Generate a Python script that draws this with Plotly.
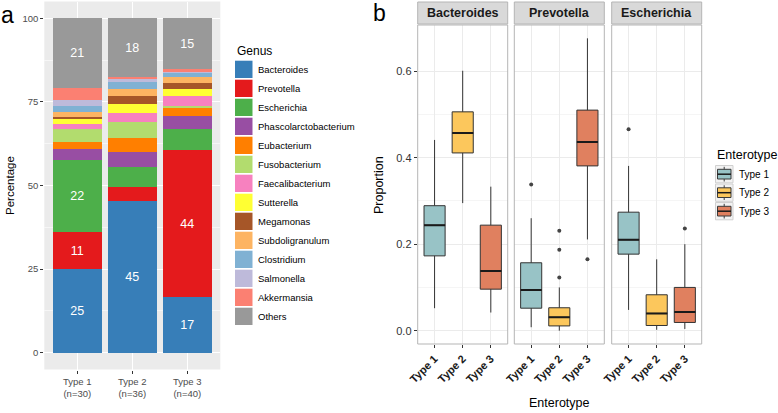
import plotly.graph_objects as go

W, H = 778, 413
def fx(x): return x / W
def fy(y): return 1 - y / H

FONT = "Liberation Sans, Arial, sans-serif"

# ---------------- Panel a data ----------------
types_a = ["Type 1<br>(n=30)", "Type 2<br>(n=36)", "Type 3<br>(n=40)"]
genera = ["Bacteroides", "Prevotella", "Escherichia", "Phascolarctobacterium",
          "Eubacterium", "Fusobacterium", "Faecalibacterium", "Sutterella",
          "Megamonas", "Subdoligranulum", "Clostridium", "Salmonella",
          "Akkermansia", "Others"]
genus_colors = ["#377EB8", "#E41A1C", "#4DAF4A", "#984EA3", "#FF7F00", "#B2DC6E",
                "#F781BF", "#FFFF33", "#A65628", "#FDB462", "#80B1D3", "#BEBADA",
                "#FB8072", "#999999"]
pct_type1 = [25.0, 11.0, 21.6, 3.2, 2.3, 3.8, 1.5, 1.7, 0.5, 1.4, 1.7, 2.0, 3.3, 21.0]
pct_type2 = [45.4, 4.3, 5.8, 4.5, 4.2, 4.7, 2.8, 2.8, 2.4, 2.0, 2.0, 1.1, 0.3, 17.7]
pct_type3 = [16.6, 43.9, 6.4, 3.8, 2.7, 0.5, 2.8, 2.0, 2.0, 1.6, 1.6, 0.4, 0.4, 15.3]

# ---------------- Panel b data ----------------
enterotypes = ["Type 1", "Type 2", "Type 3"]
type_colors = ["#98C3C6", "#FCC75C", "#E0805F"]
facet_genera = ["Bacteroides", "Prevotella", "Escherichia"]
# [genus][enterotype]
box_lower = [[0.052, 0.295, 0.042], [0.008, 0.000, 0.211], [0.048, 0.002, 0.004]]
box_q1 = [[0.173, 0.411, 0.096], [0.052, 0.011, 0.381], [0.177, 0.012, 0.019]]
box_median = [[0.244, 0.457, 0.138], [0.094, 0.031, 0.436], [0.210, 0.040, 0.043]]
box_q3 = [[0.289, 0.506, 0.244], [0.157, 0.053, 0.510], [0.274, 0.083, 0.100]]
box_upper = [[0.441, 0.601, 0.333], [0.260, 0.100, 0.676], [0.381, 0.165, 0.200]]
outlier_genus = [1, 1, 1, 1, 1, 2, 2]
outlier_type = [0, 1, 1, 1, 2, 0, 2]
outlier_value = [0.338, 0.123, 0.187, 0.231, 0.165, 0.466, 0.236]

fig = go.Figure()

# stacked bars
for i, g in enumerate(genera):
    vals = [pct_type1[i], pct_type2[i], pct_type3[i]]
    txt = [str(int(round(v))) if v >= 10 else "" for v in vals]
    fig.add_trace(go.Bar(
        x=types_a, y=vals, name=g, width=0.9,
        marker=dict(color=genus_colors[i], line=dict(width=0)),
        text=txt, textposition="inside", insidetextanchor="middle",
        textangle=0, constraintext="none",
        textfont=dict(color="white", size=12.5, family=FONT),
        xaxis="x", yaxis="y", showlegend=False))

# box plots
BW = 0.75
for k in range(3):
    xa = "x%d" % (k + 2)
    for j in range(3):
        fig.add_trace(go.Box(
            x=[j + 1], q1=[box_q1[k][j]], median=[box_median[k][j]], q3=[box_q3[k][j]],
            lowerfence=[box_lower[k][j]], upperfence=[box_upper[k][j]],
            width=BW, whiskerwidth=0, boxpoints=False,
            fillcolor=type_colors[j], line=dict(color="#333333", width=1),
            xaxis=xa, yaxis="y2", showlegend=False, name=enterotypes[j]))
        fig.add_trace(go.Scatter(
            x=[j + 1 - BW / 2, j + 1 + BW / 2], y=[box_median[k][j]] * 2,
            mode="lines", line=dict(color="#1a1a1a", width=2),
            xaxis=xa, yaxis="y2", showlegend=False, hoverinfo="skip"))
    ox = [outlier_type[n] + 1 for n in range(len(outlier_value)) if outlier_genus[n] == k]
    oy = [outlier_value[n] for n in range(len(outlier_value)) if outlier_genus[n] == k]
    if ox:
        fig.add_trace(go.Scatter(x=ox, y=oy, mode="markers",
                                 marker=dict(color="#444444", size=4),
                                 xaxis=xa, yaxis="y2", showlegend=False))

shapes = []
annotations = []

# panel a background
shapes.append(dict(type="rect", xref="x domain", yref="y domain", x0=0, x1=1, y0=0, y1=1,
                   fillcolor="#EBEBEB", line=dict(width=0), layer="below"))

panel_x = [(417.7, 507.7), (514.3, 604.3), (611.7, 701.7)]
axes_b = {}
for k, (x0, x1) in enumerate(panel_x):
    name = "xaxis%d" % (k + 2)
    axes_b[name] = dict(
        domain=[fx(x0), fx(x1)], range=[0.4, 3.6], anchor="y2", automargin=False,
        tickvals=[1, 2, 3], ticktext=["<b>%s</b>" % t for t in enterotypes],
        tickangle=-45, tickfont=dict(size=11, color="#1a1a1a", family=FONT),
        ticks="outside", ticklen=3, tickcolor="#333333",
        showgrid=True, gridcolor="#EBEBEB", gridwidth=1, zeroline=False)
    # panel border
    shapes.append(dict(type="rect", xref="x%d domain" % (k + 2), yref="y2 domain",
                       x0=0, x1=1, y0=0, y1=1, line=dict(color="#B5B5B5", width=1),
                       fillcolor="rgba(0,0,0,0)", layer="above"))
    # strip
    shapes.append(dict(type="rect", xref="paper", yref="paper",
                       x0=fx(x0), x1=fx(x1), y0=fy(24), y1=fy(2),
                       fillcolor="#D9D9D9", line=dict(color="#B5B5B5", width=1)))
    annotations.append(dict(x=fx((x0 + x1) / 2), y=fy(13), xref="paper", yref="paper",
                            text="<b>%s</b>" % facet_genera[k], showarrow=False,
                            xanchor="center", yanchor="middle",
                            font=dict(size=12.5, color="#1a1a1a", family=FONT)))

# genus legend
annotations.append(dict(x=fx(235), y=fy(51.5), xref="paper", yref="paper", text="Genus",
                        showarrow=False, xanchor="left", yanchor="middle",
                        font=dict(size=12, color="black", family=FONT)))
for i, g in enumerate(genera):
    top = 60.7 + i * 19.0
    shapes.append(dict(type="rect", xref="paper", yref="paper",
                       x0=fx(235), x1=fx(252.5), y0=fy(top + 17.3), y1=fy(top),
                       fillcolor=genus_colors[i], line=dict(width=0)))
    annotations.append(dict(x=fx(256), y=fy(top + 8.8), xref="paper", yref="paper", text=g,
                            showarrow=False, xanchor="left", yanchor="middle",
                            font=dict(size=9.5, color="black", family=FONT)))

# enterotype legend
annotations.append(dict(x=fx(715), y=fy(155), xref="paper", yref="paper", text="Enterotype",
                        showarrow=False, xanchor="left", yanchor="middle",
                        font=dict(size=12.5, color="black", family=FONT)))
for j, t in enumerate(enterotypes):
    top = 165.5 + j * 18.5
    shapes.append(dict(type="rect", xref="paper", yref="paper",
                       x0=fx(715.5), x1=fx(733), y0=fy(top + 17.3), y1=fy(top),
                       fillcolor="#F2F2F2", line=dict(color="#D0D0D0", width=1)))
    shapes.append(dict(type="line", xref="paper", yref="paper",
                       x0=fx(724.2), x1=fx(724.2), y0=fy(top + 16), y1=fy(top + 1.3),
                       line=dict(color="#3a3a3a", width=1)))
    shapes.append(dict(type="rect", xref="paper", yref="paper",
                       x0=fx(717.5), x1=fx(731), y0=fy(top + 13.5), y1=fy(top + 3.8),
                       fillcolor=type_colors[j], line=dict(color="#3a3a3a", width=1)))
    shapes.append(dict(type="line", xref="paper", yref="paper",
                       x0=fx(717.5), x1=fx(731), y0=fy(top + 8.7), y1=fy(top + 8.7),
                       line=dict(color="#1a1a1a", width=1.5)))
    annotations.append(dict(x=fx(736.5), y=fy(top + 8.7), xref="paper", yref="paper", text=t,
                            showarrow=False, xanchor="left", yanchor="middle",
                            font=dict(size=10, color="black", family=FONT)))

# titles and panel letters
annotations += [
    dict(x=fx(8), y=fy(15), xref="paper", yref="paper", text="a", showarrow=False,
         xanchor="center", yanchor="middle", font=dict(size=23, color="black", family=FONT)),
    dict(x=fx(379), y=fy(13), xref="paper", yref="paper", text="b", showarrow=False,
         xanchor="center", yanchor="middle", font=dict(size=23, color="black", family=FONT)),
    dict(x=fx(10), y=fy(186), xref="paper", yref="paper", text="Percentage", showarrow=False,
         xanchor="center", yanchor="middle", textangle=-90,
         font=dict(size=11.5, color="black", family=FONT)),
    dict(x=fx(379), y=fy(185), xref="paper", yref="paper", text="Proportion", showarrow=False,
         xanchor="center", yanchor="middle", textangle=-90,
         font=dict(size=12.5, color="black", family=FONT)),
    dict(x=fx(559.7), y=fy(403), xref="paper", yref="paper", text="Enterotype", showarrow=False,
         xanchor="center", yanchor="middle", font=dict(size=12.5, color="black", family=FONT)),
]

fig.update_layout(
    width=W, height=H, margin=dict(l=0, r=0, t=0, b=0, pad=0, autoexpand=False),
    paper_bgcolor="white", plot_bgcolor="white",
    barmode="stack", showlegend=False, font=dict(family=FONT),
    xaxis=dict(domain=[fx(44.3), fx(220.3)], range=[-0.6, 2.6], type="category",
               anchor="y", tickfont=dict(size=9.5, color="#4D4D4D", family=FONT),
               ticks="outside", ticklen=3, tickcolor="#333333", automargin=False,
               showgrid=True, gridcolor="white", gridwidth=1.2, zeroline=False),
    yaxis=dict(domain=[fy(369.5), fy(1.5)], range=[-5, 105], anchor="x",
               tickvals=[0, 25, 50, 75, 100], automargin=False,
               tickfont=dict(size=9.5, color="#4D4D4D", family=FONT),
               ticks="outside", ticklen=3, tickcolor="#333333",
               showgrid=True, gridcolor="white", gridwidth=1.2, zeroline=False,
               minor=dict(tickvals=[12.5, 37.5, 62.5, 87.5], showgrid=True,
                          gridcolor="#F6F6F6", gridwidth=0.6, ticks="")),
    yaxis2=dict(domain=[fy(344), fy(25)], range=[-0.0308, 0.7068], anchor="x2",
                tickvals=[0, 0.2, 0.4, 0.6], ticktext=["0.0", "0.2", "0.4", "0.6"],
                tickfont=dict(size=11, color="#333333", family=FONT), automargin=False,
                ticks="outside", ticklen=3, tickcolor="#333333",
                showgrid=True, gridcolor="#EBEBEB", gridwidth=1, zeroline=False,
                minor=dict(tickvals=[0.1, 0.3, 0.5], showgrid=True,
                           gridcolor="#F5F5F5", gridwidth=0.6, ticks="")),
    shapes=shapes, annotations=annotations,
)
fig.update_layout(**axes_b)

fig.write_html("out.html", config={"displayModeBar": False},
               post_script="document.body.style.margin='0';document.body.style.overflow='hidden';")
